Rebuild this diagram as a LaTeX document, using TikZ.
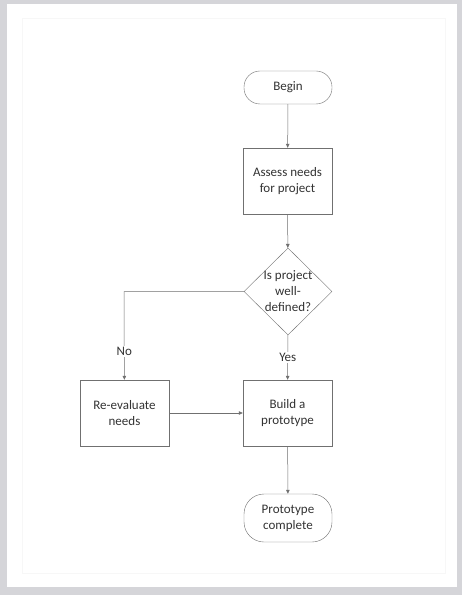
\documentclass[tikz,border=0pt]{standalone}
\usepackage{fontspec}
\setmainfont{Carlito}
\usepackage{tikz}
\usetikzlibrary{shapes.geometric, arrows.meta, positioning}

\definecolor{linegray}{HTML}{707070}
\definecolor{pagegray}{HTML}{D5D5D9}

\begin{document}
\begin{tikzpicture}[x=1bp, y=-1bp,
        box/.style={rectangle, draw=linegray, minimum width=89bp, minimum height=66bp, align=center, fill=white, inner sep=2bp},
        term/.style={rectangle, rounded corners=16bp, draw=linegray, minimum width=88bp, align=center, fill=white},
        decision/.style={diamond, draw=linegray, minimum width=88bp, minimum height=87bp, inner sep=0pt, fill=white},
        arrow/.style={-{Triangle[length=4bp, width=3.5bp]}, linegray, line width=0.5bp},
        every node/.style={font=\fontsize{13bp}{16bp}\selectfont, text=black!80}
    ]

    % page
    \fill[pagegray] (0,0) rectangle (462,595);
    \fill[white] (7,4) rectangle (457,587);
    \draw[gray!6, line width=0.6bp] (22,18) rectangle (445,573);

    % Nodes
    \node[term, minimum height=33bp] (begin) at (288,87.5) {Begin};
    \node[box] (assess) at (287.5,181) {Assess needs\\for project};
    \node[decision, label=center:{\parbox{70bp}{\centering Is project\\well-\\defined?}}] (question) at (288,291.5) {};
    \node[box] (build) at (287.5,413) {Build a\\prototype};
    \node[box] (reeval) at (124.5,413) {Re-evaluate\\needs};
    \node[term, minimum height=48bp, rounded corners=20bp] (done) at (288,518) {Prototype\\complete};
    \coordinate (bend) at (124,291.5);

    % Arrows
    \draw[arrow] (begin) -- (assess);
    \draw[arrow] (assess) -- (question);
    \draw[arrow] (question) -- node[fill=white, inner sep=1bp] {Yes} (build);
    \draw[arrow] (question.west) -- (bend) -- node[pos=0.68, fill=white, inner sep=1bp] {No} (reeval);
    \draw[arrow] (reeval) -- (build);
    \draw[arrow] (build) -- (done);

\end{tikzpicture}
\end{document}
